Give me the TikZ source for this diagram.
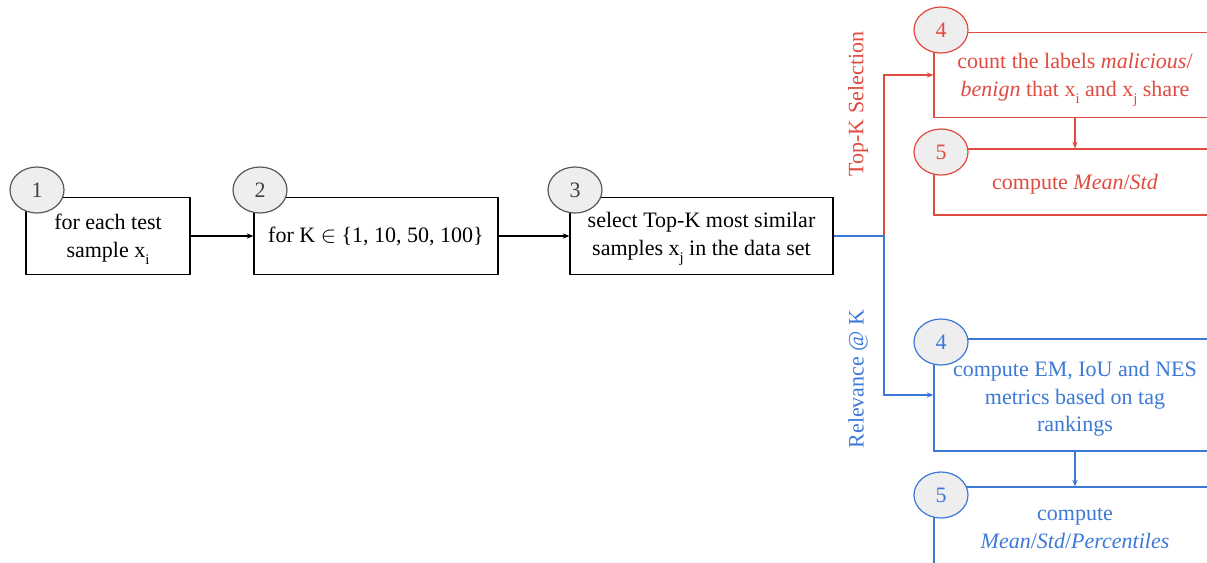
\documentclass[tikz,border=0pt]{standalone}
\usepackage{fontspec}
\setmainfont{Liberation Serif}
\usetikzlibrary{arrows.meta,shapes.geometric}
\definecolor{myred}{HTML}{E04A3F}
\definecolor{myblue}{HTML}{3C78D8}
\definecolor{circfill}{HTML}{EEEEEE}
\definecolor{circline}{HTML}{595959}
\newcommand{\sub}[1]{\raisebox{-0.75ex}{\fontsize{11}{11}\selectfont #1}}
\begin{document}
\begin{tikzpicture}[x=0.75pt,y=-0.75pt,
  every node/.style={font=\fontsize{16.5}{20.6}\selectfont},
  stepbox/.style={draw, line width=0.9pt, rectangle, inner sep=0pt},
  steptext/.style={align=center, inner sep=0pt},
  numcirc/.style={ellipse, draw=circline, fill=circfill, line width=0.9pt,
    minimum width=40.5pt, minimum height=34.5pt, inner sep=0pt, text=black!75},
  arr/.style={line width=0.9pt, -{Stealth[length=5pt,width=4pt]}},
  ln/.style={line width=0.9pt}]
\useasboundingbox (0,0) rectangle (1207,562);
\clip (0,0) rectangle (1207,562);

% main chain
\node[stepbox, minimum width=123pt, minimum height=57.75pt] (b1) at (108,236) {};
\node[stepbox, minimum width=183pt, minimum height=57.75pt] (b2) at (376,236) {};
\node[stepbox, minimum width=197.25pt, minimum height=57.75pt] (b3) at (701.5,236) {};
\node[steptext] (t1) at ([yshift=-2.5pt]b1.center) {for each test\\sample x\sub{i}};
\node[steptext] (t2) at ([yshift=-0.5pt]b2.center) {for K $\in$\ \{1, 10, 50, 100\}};
\node[steptext] (t3) at ([yshift=-2.5pt]b3.center) {select Top-K most similar\\samples x\sub{j} in the data set};

\node[numcirc] (c1) at (37,190) {1};
\node[numcirc] (c2) at (260,190) {2};
\node[numcirc] (c3) at (575,190) {3};

\draw[arr] (b1.east) -- (b2.west);
\draw[arr] (b2.east) -- (b3.west);

% red branch
\node[stepbox, draw=myred, minimum width=211.5pt, minimum height=63.75pt] (r4) at (1075,75) {};
\node[stepbox, draw=myred, minimum width=211.5pt, minimum height=49.5pt] (r5) at (1075,182) {};
\node[steptext, text=myred] (rt4) at ([yshift=-4pt]r4.center)
  {count the labels \textit{malicious}/\\\textit{benign} that x\sub{i} and x\sub{j} share};
\node[steptext, text=myred] (rt5) at ([yshift=-2pt]r5.center) {compute \textit{Mean}/\textit{Std}};
\node[numcirc, draw=myred, text=myred] (rc4) at (941,30) {4};
\node[numcirc, draw=myred, text=myred] (rc5) at (941,152) {5};

% blue branch
\node[stepbox, draw=myblue, minimum width=211.5pt, minimum height=84pt] (u4) at (1075,395) {};
\node[stepbox, draw=myblue, minimum width=211.5pt, minimum height=60pt] (u5) at (1075,527) {};
\node[steptext, text=myblue] (ut4) at ([yshift=-3pt]u4.center)
  {compute EM, IoU and NES\\metrics based on tag\\rankings};
\node[steptext, text=myblue] (ut5) at ([yshift=-1pt]u5.center)
  {compute\\\textit{Mean}/\textit{Std}/\textit{Percentiles}};
\node[numcirc, draw=myblue, text=myblue] (uc4) at (941,342) {4};
\node[numcirc, draw=myblue, text=myblue] (uc5) at (941,495) {5};

\coordinate (br) at (884,236);
\draw[arr, draw=myred] (br) |- (r4.west);
\draw[arr, draw=myblue] (b3.east) -- (br) |- (u4.west);
\draw[arr, draw=myred] (r4.south) -- (r5.north);
\draw[arr, draw=myblue] (u4.south) -- (u5.north);

\node[rotate=90, text=myred] (lt) at (858,104) {Top-K Selection};
\node[rotate=90, text=myblue] (lr) at (858,379) {Relevance @ K};
\end{tikzpicture}
\end{document}
